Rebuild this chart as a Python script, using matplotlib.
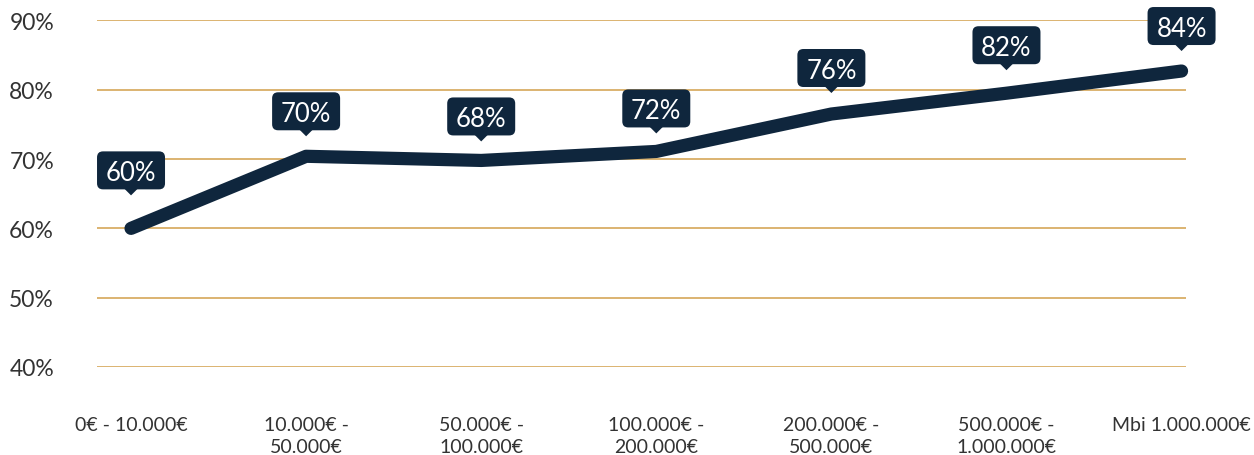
import numpy as np
import matplotlib
matplotlib.use("Agg")
import matplotlib.pyplot as plt
import matplotlib.transforms as mtransforms
from matplotlib.patches import FancyBboxPatch, Polygon

plt.rcParams["font.family"] = ["Lato", "DejaVu Sans"]

categories = [
    "0€ - 10.000€",
    "10.000€ -\n50.000€",
    "50.000€ -\n100.000€",
    "100.000€ -\n200.000€",
    "200.000€ -\n500.000€",
    "500.000€ -\n1.000.000€",
    "Mbi 1.000.000€",
]
line_values = [60.0, 70.4, 69.8, 71.1, 76.5, 79.5, 82.7]
point_labels = ["60%", "70%", "68%", "72%", "76%", "82%", "84%"]
y_ticks = [40, 50, 60, 70, 80, 90]

# gap in pixels between line point and pointer tip of each callout
label_gaps = [33, 20, 19, 18, 21, 23, 20]

NAVY = "#0f263d"
GOLD = "#d9ae66"
TEXT = "#333333"
DPI = 100

fig = plt.figure(figsize=(12.54, 4.56), dpi=DPI)
ax = fig.add_axes([0.0774, 0.193, 0.946 - 0.0774, 0.953 - 0.193])

x = np.arange(len(categories))
ax.plot(x, line_values, color=NAVY, linewidth=9.5, solid_capstyle="round",
        solid_joinstyle="round", zorder=3, clip_on=False)

ax.set_xlim(-0.194, 6.027)
ax.set_ylim(40, 90)
ax.set_yticks(y_ticks)
ax.set_yticklabels([f"{v}%" for v in y_ticks], fontsize=16.5, color=TEXT)
ax.set_xticks(x)
ax.set_xticklabels(categories, fontsize=14, color=TEXT, linespacing=1.4, va="top")
ax.tick_params(axis="y", length=0, pad=31)
ax.tick_params(axis="x", length=0, pad=35)
ax.grid(axis="y", color=GOLD, linewidth=1.3)
ax.set_axisbelow(True)
for spine in ax.spines.values():
    spine.set_visible(False)

# callout boxes, drawn in pixel units around each point
box_w, box_h, tip_h, tip_w = 68, 38, 6, 13
for xi, yi, lab, gap in zip(x, line_values, point_labels, label_gaps):
    trans = mtransforms.Affine2D() + mtransforms.ScaledTranslation(xi, yi, ax.transData)
    box = FancyBboxPatch((-box_w / 2, gap + tip_h), box_w, box_h,
                         boxstyle="round,pad=0,rounding_size=6",
                         facecolor=NAVY, edgecolor="none",
                         transform=trans, clip_on=False, zorder=4)
    ax.add_patch(box)
    tri = Polygon([(-tip_w / 2, gap + tip_h + 0.5), (tip_w / 2, gap + tip_h + 0.5), (0, gap)],
                  closed=True, facecolor=NAVY, edgecolor="none",
                  transform=trans, clip_on=False, zorder=4)
    ax.add_patch(tri)
    ax.text(0, gap + tip_h + box_h / 2, lab, transform=trans, ha="center",
            va="center_baseline", fontsize=18.5, color="white", zorder=5, clip_on=False)

fig.savefig("out.png", dpi=DPI)
